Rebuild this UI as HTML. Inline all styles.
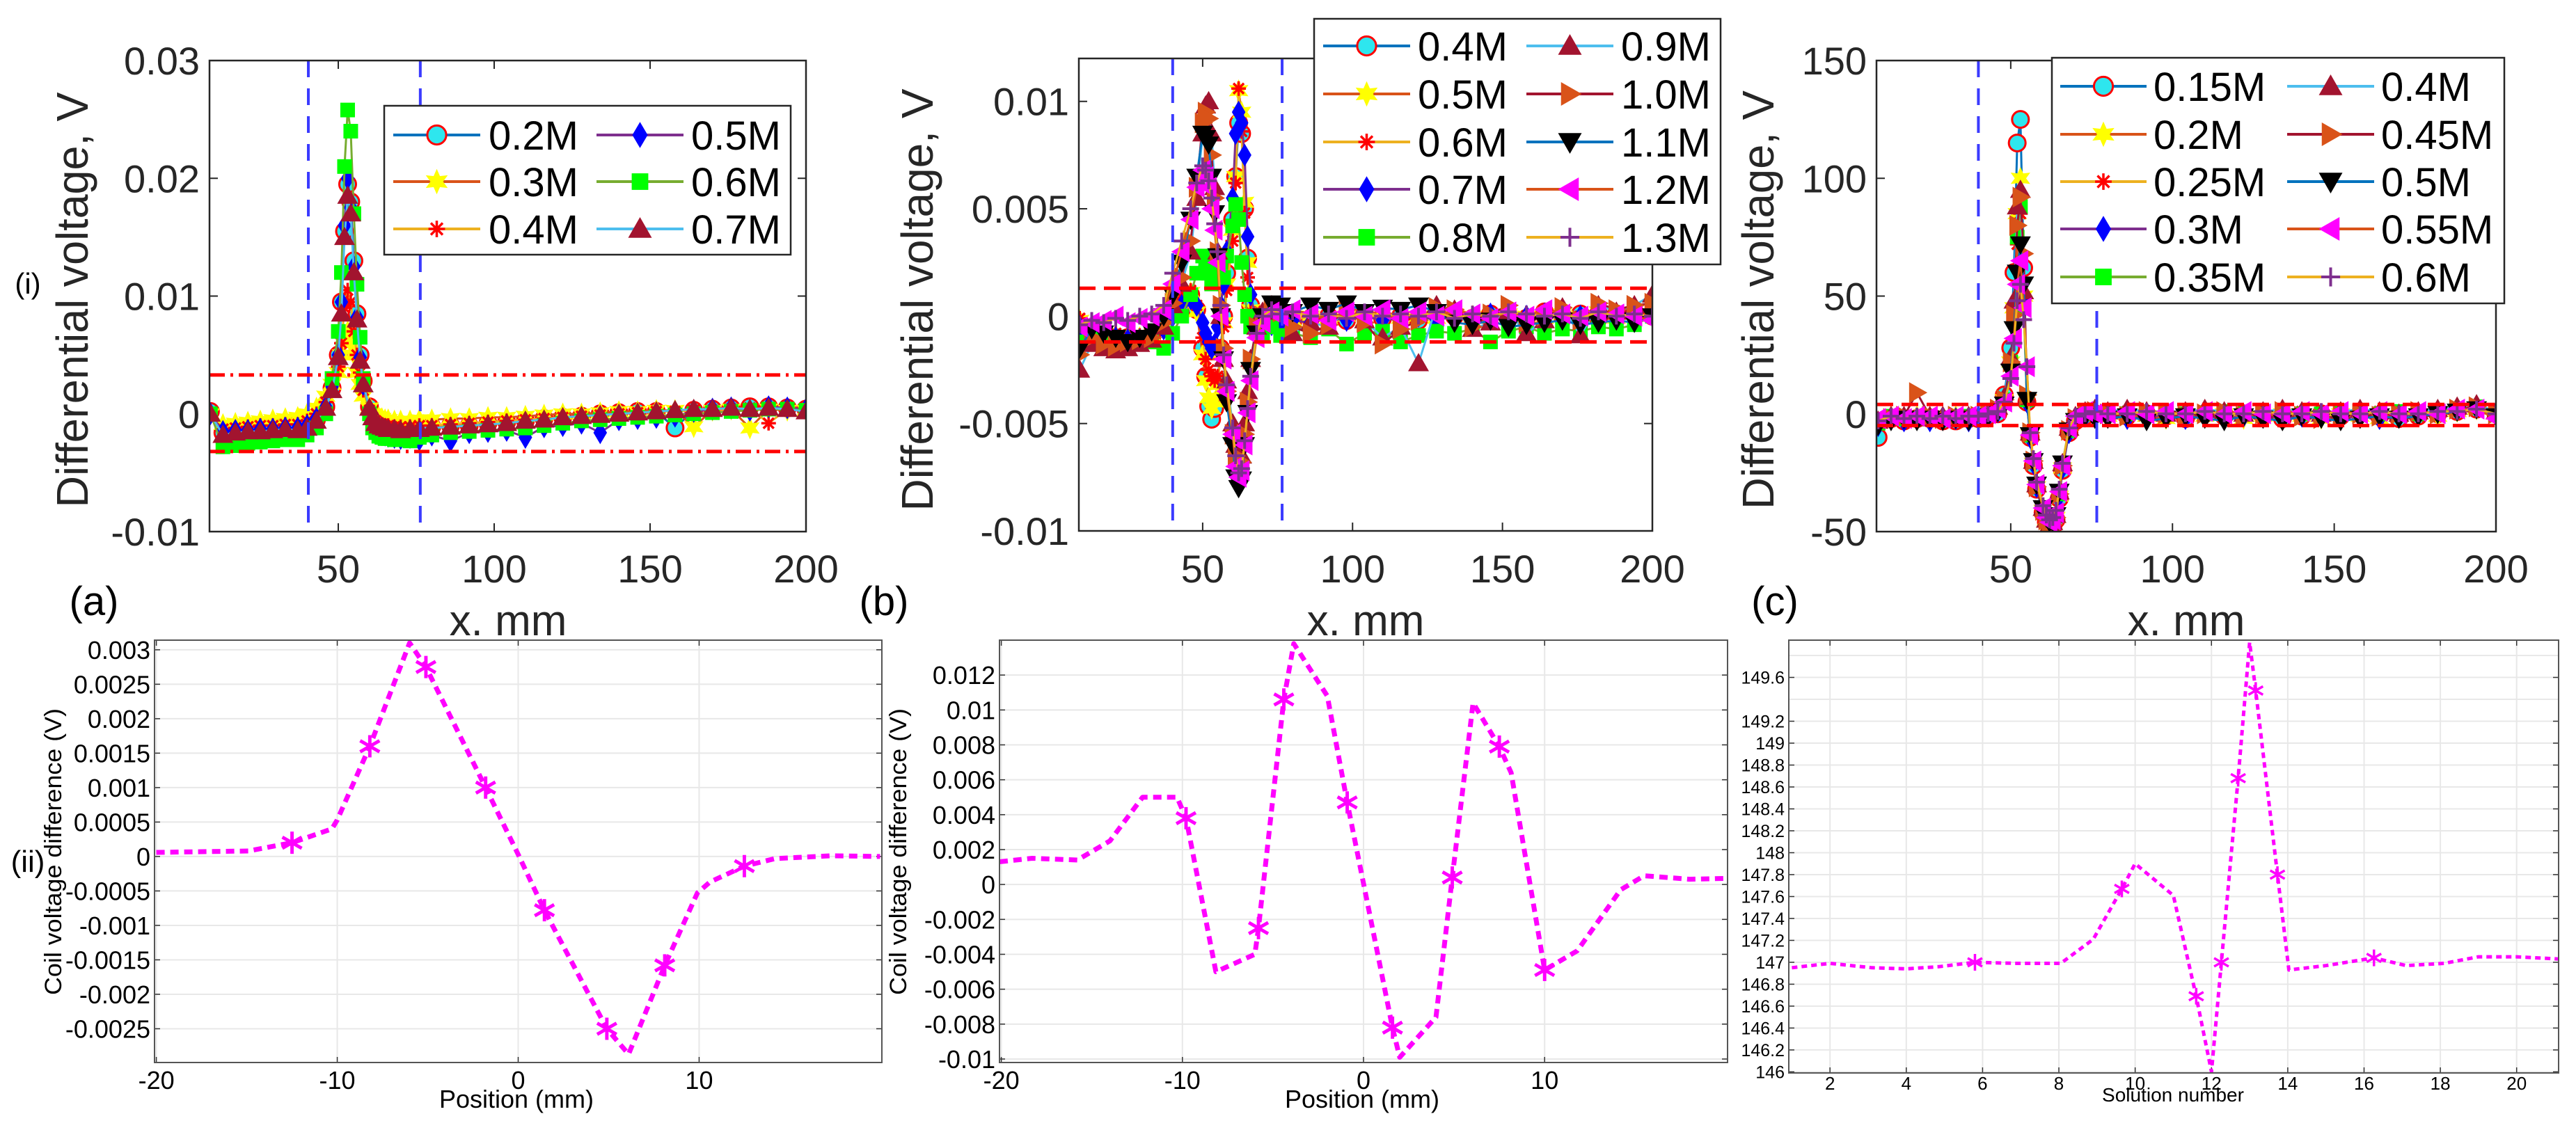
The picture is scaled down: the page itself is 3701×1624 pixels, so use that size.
<!DOCTYPE html>
<html><head><meta charset="utf-8">
<style>
html,body{margin:0;padding:0;background:#fff;}
svg{display:block;}
text{font-family:"Liberation Sans",sans-serif;}
</style></head>
<body>
<svg id="fig" xmlns="http://www.w3.org/2000/svg" width="3701" height="1624" viewBox="0 0 3701 1624">
<rect x="0" y="0" width="3701" height="1624" fill="#fff"/>
<defs>
<clipPath id="cA"><rect x="301" y="87" width="857" height="677"/></clipPath>
<clipPath id="cB"><rect x="1550" y="84" width="824" height="679"/></clipPath>
<clipPath id="cC"><rect x="2696" y="87" width="890" height="677"/></clipPath>
<clipPath id="ca"><rect x="222" y="920" width="1045" height="607"/></clipPath>
<clipPath id="cb"><rect x="1436" y="920" width="1046" height="607"/></clipPath>
<clipPath id="cc"><rect x="2570" y="920" width="1106" height="622"/></clipPath>
</defs>
<g id="layer"></g>
<text x="104" y="431" font-size="64" fill="#262626" text-anchor="middle" textLength="597" lengthAdjust="spacingAndGlyphs" transform="rotate(-90 104 431)" dy="22">Differential voltage, V</text>
<text x="1318" y="431" font-size="64" fill="#262626" text-anchor="middle" textLength="607" lengthAdjust="spacingAndGlyphs" transform="rotate(-90 1318 431)" dy="22">Differential voltage, V</text>
<text x="2526" y="431" font-size="64" fill="#262626" text-anchor="middle" textLength="602" lengthAdjust="spacingAndGlyphs" transform="rotate(-90 2526 431)" dy="22">Differential voltage, V</text>
<text x="730" y="913" font-size="62" fill="#262626" text-anchor="middle">x. mm</text>
<text x="1962" y="913" font-size="62" fill="#262626" text-anchor="middle">x. mm</text>
<text x="3141" y="913" font-size="62" fill="#262626" text-anchor="middle">x. mm</text>
<text x="40" y="422" font-size="42" fill="#000" text-anchor="middle">(i)</text>
<text x="40" y="1253" font-size="44" fill="#000" text-anchor="middle">(ii)</text>
<text x="135" y="884" font-size="58" fill="#000" text-anchor="middle">(a)</text>
<text x="1270" y="884" font-size="58" fill="#000" text-anchor="middle">(b)</text>
<text x="2550" y="884" font-size="58" fill="#000" text-anchor="middle">(c)</text>
<text x="76" y="1224" font-size="34" fill="#000" text-anchor="middle" textLength="412" lengthAdjust="spacingAndGlyphs" transform="rotate(-90 76 1224)" dy="12">Coil voltage difference (V)</text>
<text x="1290" y="1224" font-size="34" fill="#000" text-anchor="middle" textLength="412" lengthAdjust="spacingAndGlyphs" transform="rotate(-90 1290 1224)" dy="12">Coil voltage difference (V)</text>
<text x="742" y="1592" font-size="36" fill="#000" text-anchor="middle">Position (mm)</text>
<text x="1957" y="1592" font-size="36" fill="#000" text-anchor="middle">Position (mm)</text>
<text x="3122" y="1583" font-size="28" fill="#000" text-anchor="middle">Solution number</text>
</svg>
<script>
// ---------- data: top row (measured) ----------
const xsTop = [9,13,17,21,25,29,33,37,40,43,46,48,50,51,52,53,54,55,56,57,58,60,61,62,63,64,65,66,68,70,73,76,80,86,92,98,104,110,116,122,128,134,140,146,152,158,164,170,176,182,188,194,200];
// Panel A values in mV
const a02 = [0.2,-1.6,-1.5,-1.4,-1.4,-1.3,-1.2,-1.2,-1.0,-0.5,0.6,2.2,5,9.5,15.5,19.5,18,13,8.5,5,2.8,0.6,-0.2,-0.7,-0.9,-1.0,-1.1,-1.2,-1.2,-1.3,-1.3,-1.2,-1.1,-1.0,-1.0,-0.8,-0.7,-0.6,-0.4,-0.3,-0.2,0,0.1,0.2,0.2,-1.2,0.3,0.4,0.5,0.6,0.6,0.5,0.4];
const a03 = [0,-0.9,-0.8,-0.7,-0.6,-0.5,-0.4,-0.3,0,0.5,1.5,2.5,3.5,5,6.5,7,6,5,3.5,2.5,1.5,0.5,0,-0.2,-0.3,-0.4,-0.5,-0.5,-0.6,-0.6,-0.6,-0.5,-0.5,-0.4,-0.4,-0.3,-0.3,-0.2,-0.1,0,0,0.1,0.2,0.2,0.3,0.3,-1.1,0.3,0.4,-1.2,0.4,0.3,0.3];
const a04 = [0,-1.3,-1.2,-1.1,-1.0,-1.0,-0.9,-0.9,-0.6,0,1.0,2.5,4,6,9,10.5,9.5,7,5,3.5,2,0.3,-0.3,-0.6,-0.8,-0.9,-1.0,-1.0,-1.1,-1.1,-1.1,-1.0,-1.0,-0.9,-0.8,-0.7,-0.6,-0.5,-0.4,-0.3,-0.2,-0.1,0,0.1,0.2,0.2,0.3,0.3,0.4,0.5,-0.8,0.4,0.3];
const a05 = [0,-1.5,-1.4,-1.4,-1.3,-1.3,-1.2,-1.2,-1.0,-0.4,0.6,2.3,5,9.5,16,20,17.5,12.5,8.2,4.8,2.5,0.3,-0.6,-1.2,-1.5,-1.7,-1.8,-1.9,-2.0,-2.1,-2.0,-2.2,-1.8,-2.3,-1.6,-1.5,-1.4,-2.0,-1.1,-1.0,-0.8,-1.6,-0.5,-0.4,-0.3,-0.2,0.2,0.4,0.5,0.3,0.6,0.5,0.4];
const a06 = [0,-2.8,-2.7,-2.5,-2.4,-2.3,-2.2,-2.2,-1.8,-1.2,0,3,7,12,21,25.8,24,17,11,6.5,3,0,-1.2,-1.6,-1.9,-2.0,-2.1,-2.1,-2.2,-2.2,-2.3,-2.0,-1.8,-1.6,-1.5,-1.4,-1.3,-1.2,-1.0,-0.8,-0.6,-0.5,-0.4,-0.3,-0.2,-0.1,0,0.1,0.2,0.3,0.4,0.4,0.3];
const a07 = [0,-1.8,-1.6,-1.5,-1.5,-1.4,-1.3,-1.4,-1.2,-0.6,0.5,2.0,4.8,8.5,15,18.5,17,12,8,4.5,2.5,0.5,-0.3,-0.8,-1.0,-1.1,-1.2,-1.3,-1.3,-1.4,-1.3,-1.3,-1.2,-1.1,-1.0,-0.9,-0.8,-0.6,-0.5,-0.3,-0.2,-0.1,0,0.1,0.2,0.3,0.4,0.4,0.5,0.4,0.5,0.4,0.2];
const labelsA = ['0.2M','0.3M','0.4M','0.5M','0.6M','0.7M'];
const yTicksA = [-10,0,10,20,30];
const yTickLabelsA = ['-0.01','0','0.01','0.02','0.03'];
const vLinesA = [40.4,76.3];
const hLinesA = [3.3,-3.2];
// Panel B values in mV
const b04 = [-0.3,-0.8,-0.9,-1.0,-1.0,-1.1,-1.0,-0.5,0.2,0.8,1.0,0.3,-1.5,-2.8,-4.2,-4.8,-4.3,-3.0,-1.5,0,2.0,4.5,6.5,9.0,8.5,5,2.7,0.5,-0.2,-0.4,-0.3,-0.2,-0.3,-0.1,0,-0.2,0.1,-0.1,0,-0.2,0.1,0,-0.1,0.1,0,-0.1,0.2,0,0.1,-0.1,0.1,0.2,0];
const b05 = [-0.2,-0.7,-0.8,-0.9,-1.0,-1.0,-0.9,-0.4,0.3,0.9,1.1,0.2,-1.8,-3.0,-3.8,-4.3,-4.0,-3.2,-1.8,-0.3,1.5,4,6.5,10.5,9.5,5.3,2.5,0.3,-0.2,-0.3,-0.2,-0.3,-0.2,0,-0.1,0,-0.2,0.1,-0.1,0,-0.1,0.1,0,-0.1,0.1,0,-0.1,0.1,0,0.2,-0.1,0.1,0];
const b06 = [-0.1,-0.6,-0.7,-0.8,-0.9,-0.9,-0.8,-0.3,0.4,1.0,1.2,0.5,-1.0,-2.0,-2.5,-2.8,-3.0,-2.8,-2.0,-0.5,1.2,3.5,6.2,10.6,8.6,4.8,1.8,0.2,-0.2,-0.3,-0.2,-0.1,-0.2,0,-0.1,0.1,-0.1,0,0.1,-0.1,0,0.1,-0.1,0,0.1,0,-0.1,0.1,0,0.1,0,0.1,0];
const b07 = [-0.5,-0.9,-1.0,-1.0,-1.1,-1.1,-1.0,-0.6,0,0.5,0.8,0.5,-0.3,-0.8,-1.2,-1.5,-1.3,-0.5,0.5,1.5,3,5.5,8.5,9.5,9.0,7.5,3.7,1.0,-0.3,-0.5,-0.4,-0.3,-0.2,-0.3,-0.1,-0.2,0,-0.2,-0.1,0,-0.2,0,-0.1,0.1,-0.1,0,0.1,-0.2,0,0.1,-0.1,0.1,0];
const b08 = [-1.2,-1.0,-1.2,-1.3,-1.2,-1.3,-1.2,-1.5,-0.8,0,1.0,2.0,2.8,2.5,2.0,1.5,1.8,2.0,2.5,1.8,2.8,4.2,5.2,4.5,2.5,1.0,0,-0.5,-0.7,-0.8,-0.5,-0.9,-0.8,-1.0,-0.6,-1.3,-0.8,-0.7,-1.2,-0.9,-0.7,-0.8,-0.6,-1.2,-0.7,-0.5,-0.8,-0.6,-0.7,-0.5,-0.6,-0.4,0];
const b09 = [-2.5,-1.3,-1.5,-1.6,-1.5,-1.3,-1.1,-0.5,0.5,1.5,3,5.5,8.5,9.8,10,8.5,6,3,0,-2,-3,-5,-6,-7,-6.5,-5,-3.5,-2,-0.5,0.2,0.5,0.3,-0.8,-0.3,-0.5,0.3,-0.2,-1.0,-0.5,-2.2,0.5,0.3,-0.6,-0.3,0.2,-0.8,-0.2,0.4,-0.9,0.5,0.2,0.5,1.0];
const b10 = [-1.8,-1.0,-1.3,-1.4,-1.2,-1.1,-1.0,-0.3,0.6,1.8,3.5,6,9,9.5,9.2,7.5,5.5,3,0.5,-1.5,-3.5,-5.5,-6.5,-7,-6.8,-5.5,-4,-2,-0.5,0,0.4,0.2,-0.5,-0.8,-0.4,0.3,-0.3,-1.3,-0.6,-0.2,0.4,0.3,-0.5,0.1,0.5,-0.3,0,0.4,-0.2,0.6,0.3,0.5,0.6];
const b11 = [-1.5,-0.6,-0.8,-1.0,-1.2,-1.0,-0.7,0,1.0,2.5,4.5,6.5,8.5,8.3,8.0,6.5,4.8,2.8,0,-2,-4,-6,-7.5,-8,-7.6,-6,-4.5,-2.5,-0.8,0,0.6,0.5,0.2,0.5,0.3,0.6,0.2,0.4,0.3,0.5,0.2,-0.3,-0.4,-0.2,-0.5,-0.4,-0.3,-0.2,-0.4,-0.3,-0.2,-0.3,0];
const b12 = [-0.5,-0.3,-0.2,0,-0.3,-0.1,0,0.3,1.5,3,4.5,6,6.8,6.5,6,5,4,2.5,0,-2,-3.5,-5.5,-7,-7.5,-7.2,-6.0,-4.5,-3,-1,-0.3,0.2,0,0.3,0.1,-0.2,0.2,0,0.3,-0.1,0.2,0,0.3,0.1,-0.1,0.2,0,0.3,0.1,0,0.2,0.1,0,-0.2];
const b13 = [-0.4,-0.2,-0.3,-0.1,-0.2,0,0.1,0.5,2.0,3.5,5.0,6.2,7.0,6.8,6.3,5.5,4.3,3,0.5,-1.8,-3.2,-5.2,-6.5,-7.3,-7.1,-5.8,-4.3,-2.8,-0.8,0,0.3,0.1,0.2,0,0.1,-0.1,0.2,0,0.1,0,0.2,-0.1,0.1,0,0.2,0.1,0,0.1,-0.1,0.2,0,0.1,0];
const labelsB = ['0.4M','0.5M','0.6M','0.7M','0.8M','0.9M','1.0M','1.1M','1.2M','1.3M'];
const yTicksB = [-10,-5,0,5,10];
const yTickLabelsB = ['-0.01','-0.005','0','0.005','0.01'];
const vLinesB = [40,76.5];
const hLinesB = [1.3,-1.2];
// Panel C values in V
const c015 = [-10,-2,-3,-2,-2,-3,-3,-2,-2,-1,0,8,28,60,115,125,62,5,-10,-22,-32,-42,-46,-48,-48,-45,-36,-24,-8,-3,-1,0,0,-1,0,-1,-2,0,-1,0,-1,-2,-1,0,-1,0,-1,-2,-1,0,1,2,0];
const c020 = [-4,-1,-2,-1,-2,-2,-1,-2,-1,0,2,6,22,45,85,100,50,6,-9,-21,-31,-41,-45,-47,-47,-44,-35,-23,-7,-2,-1,0,-1,0,-1,-2,0,-1,0,-2,-1,0,-1,-2,0,-1,-2,-1,0,-1,1,2,0];
const c025 = [-3,-2,-1,-2,-1,-2,-2,-1,-1,0,2,5,20,40,72,85,45,6,-9,-20,-30,-40,-45,-47,-46,-43,-34,-22,-7,-2,0,1,0,1,0,-1,0,1,0,-1,0,0,1,0,-1,0,1,0,-1,0,2,3,1];
const c030 = [-5,-2,-3,-2,-3,-2,-2,-3,-2,-1,1,5,20,42,78,90,48,5,-10,-21,-31,-41,-45,-47,-47,-44,-35,-23,-8,-3,-1,-1,-1,-2,-1,-1,-2,-1,-2,-1,-1,-2,-1,-1,-2,-1,-2,-1,0,1,2,3,0];
const c035 = [-4,-1,-2,-2,-1,-2,-2,-1,-1,0,2,6,22,44,75,88,45,6,-9,-20,-30,-40,-44,-46,-46,-43,-34,-22,-7,-2,0,0,1,0,0,1,0,0,1,0,0,1,0,0,1,0,0,1,0,1,2,3,1];
const c040 = [-3,-1,-1,-2,-1,-1,-2,-1,-1,0,3,7,24,48,88,95,52,7,-8,-20,-30,-40,-45,-47,-46,-43,-33,-21,-6,-1,1,2,1,2,1,0,1,2,1,0,1,2,1,0,1,2,1,0,1,2,3,4,1];
const c045 = [-4,-2,-1,9,-1,-2,-1,-2,-1,0,2,6,22,42,80,92,68,8,-8,-20,-31,-41,-45,-48,-47,-44,-34,-22,-7,-2,0,1,0,-1,1,0,-1,0,1,-1,0,1,-1,-2,-1,0,-1,0,1,0,2,3,0];
const c050 = [-5,-3,-2,-3,-2,-3,-2,-3,-2,-1,1,4,18,36,60,72,55,6,-9,-20,-30,-40,-44,-46,-46,-43,-33,-21,-7,-3,-1,-2,-2,-1,-3,-2,-1,-2,-3,-1,-2,-3,-1,-2,-3,-2,-1,-2,-1,0,1,2,-1];
const c055 = [-2,-1,-2,-1,-1,-2,-1,-1,-1,0,2,5,16,32,55,65,45,20,-9,-20,-30,-40,-44,-46,-45,-42,-33,-22,-6,-1,1,0,0,1,0,1,0,1,0,1,0,0,1,0,1,0,1,0,1,0,2,2,-2];
const c060 = [-3,-1,-2,-1,-2,-1,-2,-1,-1,0,1,5,15,30,48,55,40,20,-8,-19,-29,-39,-43,-45,-44,-41,-32,-21,-6,-1,0,1,0,0,1,0,0,1,0,0,1,0,0,1,0,0,1,0,0,1,1,2,0];
const labelsC = ['0.15M','0.2M','0.25M','0.3M','0.35M','0.4M','0.45M','0.5M','0.55M','0.6M'];
const yTicksC = [-50,0,50,100,150];
const yTickLabelsC = ['-50','0','50','100','150'];
const vLinesC = [40,76.6];
const hLinesC = [4,-5];
const xTicksTop = [50,100,150,200];
const xTickLabelsTop = ['50','100','150','200'];

// ---------- data: bottom row (simulation) ----------
const simAX = [-20,-14.9,-12.5,-10.3,-10,-8.2,-6.0,-5.1,-1.8,0,1.45,4.9,6.1,8.1,9.9,10.6,12.5,14.2,17.3,20];
const simAY = [0.00006,0.00008,0.0002,0.0004,0.00053,0.0016,0.0031,0.00275,0.001,0.00003,-0.00078,-0.0025,-0.00287,-0.00158,-0.00053,-0.00037,-0.00014,-0.00003,0.00001,0];
const simAMarkX = [-12.5,-8.2,-5.1,-1.8,1.45,4.9,8.1,12.5];
const simAMarkY = [0.0002,0.0016,0.00275,0.001,-0.00078,-0.0025,-0.00158,-0.00014];
const simATicksY = [-0.0025,-0.002,-0.0015,-0.001,-0.0005,0,0.0005,0.001,0.0015,0.002,0.0025,0.003];
const simATickLabelsY = ['-0.0025','-0.002','-0.0015','-0.001','-0.0005','0','0.0005','0.001','0.0015','0.002','0.0025','0.003'];
const simBX = [-20.1,-18.3,-15.8,-14,-12.2,-10.3,-9.8,-8.15,-6,-5.8,-4.4,-3.85,-2,-0.9,1.6,2,4,4.9,6.05,7.5,8.15,10,11.8,14.2,15.5,18,20.1];
const simBY = [0.0013,0.0015,0.0014,0.0025,0.005,0.005,0.0038,-0.005,-0.004,-0.0025,0.0106,0.0138,0.0108,0.0047,-0.0082,-0.0099,-0.0076,0.0004,0.0104,0.0079,0.0064,-0.0049,-0.0038,-0.0003,0.0005,0.0003,0.00035];
const simBMarkX = [-9.8,-5.8,-4.4,-0.9,1.6,4.9,7.5,10];
const simBMarkY = [0.0038,-0.0025,0.0106,0.0047,-0.0082,0.0004,0.0079,-0.0049];
const simBTicksY = [-0.01,-0.008,-0.006,-0.004,-0.002,0,0.002,0.004,0.006,0.008,0.01,0.012];
const simBTickLabelsY = ['-0.01','-0.008','-0.006','-0.004','-0.002','0','0.002','0.004','0.006','0.008','0.01','0.012'];
const simXTicks = [-20,-10,0,10];
const simXTickLabels = ['-20','-10','0','10'];
const simCX = [1,2,3.1,4,4.85,5.8,6.9,8.05,8.9,9.65,10,11,11.6,12,12.26,12.7,13,13.16,13.73,14.03,15,16.26,17.1,18.1,19,20,21.1];
const simCY = [146.95,146.99,146.95,146.94,146.96,147.0,146.99,146.99,147.21,147.67,147.9,147.61,146.69,146.0,147.0,148.68,149.92,149.48,147.8,146.93,146.97,147.04,146.97,146.99,147.05,147.05,147.03];
const simCMarkX = [5.8,9.65,11.6,12.26,12.7,13.16,13.73,16.26];
const simCMarkY = [147.0,147.67,146.69,147.0,148.68,149.48,147.8,147.04];
const simCGridY = [146,146.2,146.4,146.6,146.8,147,147.2,147.4,147.6,147.8,148,148.2,148.4,148.6,148.8,149,149.2,149.4,149.6,149.8];
const simCTicksY = [146,146.2,146.4,146.6,146.8,147,147.2,147.4,147.6,147.8,148,148.2,148.4,148.6,148.8,149,149.2,149.6];
const simCTickLabelsY = ['146','146.2','146.4','146.6','146.8','147','147.2','147.4','147.6','147.8','148','148.2','148.4','148.6','148.8','149','149.2','149.6'];
const simCXTicks = [2,4,6,8,10,12,14,16,18,20];
const simCXTickLabels = ['2','4','6','8','10','12','14','16','18','20'];

// ---------- rendering ----------
const NS = 'http://www.w3.org/2000/svg';
const root = document.getElementById('layer');
function mk(parent, tag, attrs){
  const e = document.createElementNS(NS, tag);
  for (const k in attrs) e.setAttribute(k, attrs[k]);
  parent.appendChild(e);
  return e;
}
function sx(p, v){ return p.x0 + (v - p.xmin) / (p.xmax - p.xmin) * (p.x1 - p.x0); }
function sy(p, v){ return p.y1 - (v - p.ymin) / (p.ymax - p.ymin) * (p.y1 - p.y0); }

const PA = {x0:301,x1:1158,y0:87,y1:764,xmin:8.7,xmax:200,ymin:-10,ymax:30,clip:'cA'};
const PB = {x0:1550,x1:2374,y0:84,y1:763,xmin:8.7,xmax:200,ymin:-10,ymax:12,clip:'cB'};
const PC = {x0:2696,x1:3586,y0:87,y1:764,xmin:8.5,xmax:200,ymin:-50,ymax:150,clip:'cC'};

const STY = {
  circle:{line:'#0072BD'}, star:{line:'#D95319'}, ast:{line:'#EDB120'}, diamond:{line:'#7E2F8E'},
  square:{line:'#77AC30'}, tri:{line:'#4DBEEE'}, rtri:{line:'#A2142F'}, dtri:{line:'#0072BD'},
  ltri:{line:'#D95319'}, plus:{line:'#EDB120'}
};
function marker(g, type, cx, cy, s){
  const h = s/2;
  let e;
  if (type==='circle') e = mk(g,'circle',{cx:cx,cy:cy,r:h*0.8,fill:'#2ee6ee',stroke:'#ff0000','stroke-width':3});
  else if (type==='star'){
    let pts=[]; for(let i=0;i<12;i++){const a=-Math.PI/2+i*Math.PI/6; const r=(i%2===0)?h:h*0.5; pts.push((cx+r*Math.cos(a)).toFixed(1)+','+(cy+r*Math.sin(a)).toFixed(1));}
    e = mk(g,'polygon',{points:pts.join(' '),fill:'#ffff00',stroke:'#ffff00','stroke-width':1});
  }
  else if (type==='ast') e = mk(g,'path',{d:`M${cx-h*0.7},${cy}H${cx+h*0.7}M${cx},${cy-h*0.7}V${cy+h*0.7}M${cx-h*0.5},${cy-h*0.5}L${cx+h*0.5},${cy+h*0.5}M${cx-h*0.5},${cy+h*0.5}L${cx+h*0.5},${cy-h*0.5}`,stroke:'#ff0000','stroke-width':3.5,fill:'none'});
  else if (type==='diamond') e = mk(g,'polygon',{points:`${cx},${cy-h*1.1} ${cx+h*0.65},${cy} ${cx},${cy+h*1.1} ${cx-h*0.65},${cy}`,fill:'#0000ff'});
  else if (type==='square') e = mk(g,'rect',{x:cx-h*0.7,y:cy-h*0.7,width:h*1.4,height:h*1.4,fill:'#00ff00'});
  else if (type==='tri') e = mk(g,'polygon',{points:`${cx},${cy-h} ${cx+h},${cy+h*0.75} ${cx-h},${cy+h*0.75}`,fill:'#A2142F'});
  else if (type==='rtri') e = mk(g,'polygon',{points:`${cx+h},${cy} ${cx-h*0.75},${cy-h} ${cx-h*0.75},${cy+h}`,fill:'#D95319'});
  else if (type==='dtri') e = mk(g,'polygon',{points:`${cx},${cy+h} ${cx+h},${cy-h*0.75} ${cx-h},${cy-h*0.75}`,fill:'#000'});
  else if (type==='ltri') e = mk(g,'polygon',{points:`${cx-h},${cy} ${cx+h*0.75},${cy-h} ${cx+h*0.75},${cy+h}`,fill:'#ff00ff'});
  else if (type==='plus') e = mk(g,'path',{d:`M${cx-h*0.8},${cy}H${cx+h*0.8}M${cx},${cy-h*0.8}V${cy+h*0.8}`,stroke:'#7E2F8E','stroke-width':4,fill:'none'});
  return e;
}

function drawTopPanel(p, key, series, types, labels, yTicks, yTickLabels, vLines, hLines, hDash, legend){
  const g = mk(root,'g',{});
  
  
  // ticks
  yTicks.forEach((v,i)=>{
    const y = sy(p,v);
    mk(g,'line',{x1:p.x0,x2:p.x0+12,y1:y,y2:y,stroke:'#262626','stroke-width':2});
    mk(g,'line',{x1:p.x1,x2:p.x1-12,y1:y,y2:y,stroke:'#262626','stroke-width':2});
    const t = mk(g,'text',{x:p.x0-14,y:y+20,'font-size':56,'text-anchor':'end',fill:'#262626'});
    t.textContent = yTickLabels[i];
    
    
  });
  xTicksTop.forEach((v,i)=>{
    const x = sx(p,v);
    mk(g,'line',{x1:x,x2:x,y1:p.y1,y2:p.y1-12,stroke:'#262626','stroke-width':2});
    mk(g,'line',{x1:x,x2:x,y1:p.y0,y2:p.y0+12,stroke:'#262626','stroke-width':2});
    const t = mk(g,'text',{x:x,y:837,'font-size':56,'text-anchor':'middle',fill:'#262626'});
    t.textContent = xTickLabelsTop[i];
    
    
  });
  const pg = mk(g,'g',{'clip-path':'url(#'+p.clip+')'});
  // series
  series.forEach((arr,si)=>{
    const sg = mk(pg,'g',{});
    
    
    const n = Math.min(arr.length, xsTop.length);
    let d = '';
    for (let i=0;i<n;i++) d += (i?'L':'M') + sx(p,xsTop[i]).toFixed(1) + ',' + sy(p,arr[i]).toFixed(1);
    mk(sg,'path',{d:d,fill:'none',stroke:STY[types[si]].line,'stroke-width':3});
    for (let i=0;i<n;i++){
      const m = marker(sg, types[si], sx(p,xsTop[i]), sy(p,arr[i]), 30);
      
      
    }
  });
  vLines.forEach(v=>{
    const l = mk(pg,'line',{x1:sx(p,v),x2:sx(p,v),y1:p.y0,y2:p.y1,stroke:'#3b3bff','stroke-width':4,'stroke-dasharray':'24 16'});
    
    
  });
  hLines.forEach(v=>{
    const l = mk(pg,'line',{x1:p.x0,x2:p.x1,y1:sy(p,v),y2:sy(p,v),stroke:'#ff0000','stroke-width':5,'stroke-dasharray':hDash});
    
    
  });
  const fr = mk(g,'rect',{x:p.x0,y:p.y0,width:p.x1-p.x0,height:p.y1-p.y0,fill:'none',stroke:'#262626','stroke-width':2.5});
  
  
  // legend
  const lg = mk(g,'g',{});
  
  
  mk(lg,'rect',{x:legend.x0,y:legend.y0,width:legend.x1-legend.x0,height:legend.y1-legend.y0,fill:'#fff',stroke:'#262626','stroke-width':2.5});
  const rows = legend.rows.length;
  labels.forEach((lab,i)=>{
    const col = Math.floor(i/rows), row = i%rows;
    const c = legend.cols[col];
    const y = legend.rows[row];
    const en = mk(lg,'g',{});
    
    
    mk(en,'line',{x1:c.l0,x2:c.l1,y1:y,y2:y,stroke:STY[types[i]].line,'stroke-width':4});
    marker(en, types[i], (c.l0+c.l1)/2, y, 34);
    const t = mk(en,'text',{x:c.t,y:y+21,'font-size':58,fill:'#000'});
    t.textContent = lab;
  });
}

drawTopPanel(PA,'a',[a02,a03,a04,a05,a06,a07],['circle','star','ast','diamond','square','tri'],labelsA,yTicksA,yTickLabelsA,vLinesA,hLinesA,'22 8 4 8',
  {x0:552,x1:1136,y0:152,y1:366,rows:[194,261,329],cols:[{l0:565,l1:690,t:702},{l0:857,l1:982,t:993}]});
drawTopPanel(PB,'b',[b04,b05,b06,b07,b08,b09,b10,b11,b12,b13],['circle','star','ast','diamond','square','tri','rtri','dtri','ltri','plus'],labelsB,yTicksB,yTickLabelsB,vLinesB,hLinesB,'24 12',
  {x0:1888,x1:2472,y0:27,y1:380,rows:[66,135,204,272,341],cols:[{l0:1901,l1:2026,t:2037},{l0:2193,l1:2318,t:2329}]});
drawTopPanel(PC,'c',[c015,c020,c025,c030,c035,c040,c045,c050,c055,c060],['circle','star','ast','diamond','square','tri','rtri','dtri','ltri','plus'],labelsC,yTicksC,yTickLabelsC,vLinesC,hLinesC,'24 12',
  {x0:2948,x1:3598,y0:83,y1:436,rows:[124,193,261,329,398],cols:[{l0:2960,l1:3084,t:3094},{l0:3286,l1:3411,t:3421}]});

// bottom panels
const Pa = {x0:222,x1:1267,y0:920,y1:1527,xmin:-20.1,xmax:20.1,ymin:-0.00299,ymax:0.00314,clip:'ca'};
const Pb = {x0:1436,x1:2482,y0:920,y1:1527,xmin:-20.1,xmax:20.1,ymin:-0.0102,ymax:0.0140,clip:'cb'};
const Pc = {x0:2570,x1:3676,y0:920,y1:1542,xmin:0.92,xmax:21.1,ymin:145.99,ymax:149.94,clip:'cc'};

function astMark(g, cx, cy, s, w){
  const h = s/2;
  const e = mk(g,'path',{d:`M${cx},${cy-h}V${cy+h}M${cx-h*0.87},${cy-h*0.5}L${cx+h*0.87},${cy+h*0.5}M${cx-h*0.87},${cy+h*0.5}L${cx+h*0.87},${cy-h*0.5}`,stroke:'#ff00ff','stroke-width':w,fill:'none'});
  return e;
}
function drawSim(p, key, X, Y, MX, MY, gridY, ticksY, tickLabelsY, ticksX, tickLabelsX, fs, fsx, xlabY, lw, ms, dash){
  const g = mk(root,'g',{});
  
  
  gridY.forEach(v=>{
    mk(g,'line',{x1:p.x0,x2:p.x1,y1:sy(p,v),y2:sy(p,v),stroke:'#e8e8e8','stroke-width':2});
  });
  ticksX.forEach(v=>{
    mk(g,'line',{x1:sx(p,v),x2:sx(p,v),y1:p.y0,y2:p.y1,stroke:'#e8e8e8','stroke-width':2});
  });
  ticksY.forEach((v,i)=>{
    const y = sy(p,v);
    mk(g,'line',{x1:p.x0,x2:p.x0+8,y1:y,y2:y,stroke:'#333','stroke-width':1.5});
    mk(g,'line',{x1:p.x1,x2:p.x1-8,y1:y,y2:y,stroke:'#333','stroke-width':1.5});
    const t = mk(g,'text',{x:p.x0-6,y:y+fs*0.36,'font-size':fs,'text-anchor':'end',fill:'#000'});
    t.textContent = tickLabelsY[i];
    
    
  });
  ticksX.forEach((v,i)=>{
    const x = sx(p,v);
    mk(g,'line',{x1:x,x2:x,y1:p.y1,y2:p.y1-8,stroke:'#333','stroke-width':1.5});
    mk(g,'line',{x1:x,x2:x,y1:p.y0,y2:p.y0+8,stroke:'#333','stroke-width':1.5});
    const t = mk(g,'text',{x:x,y:xlabY,'font-size':fsx,'text-anchor':'middle',fill:'#000'});
    t.textContent = tickLabelsX[i];
    
    
  });
  const pg = mk(g,'g',{'clip-path':'url(#'+p.clip+')'});
  let d='';
  const n = Math.min(X.length, Y.length);
  for (let i=0;i<n;i++) d += (i?'L':'M') + sx(p,X[i]).toFixed(1) + ',' + sy(p,Y[i]).toFixed(1);
  const ln = mk(pg,'path',{d:d,fill:'none',stroke:'#ff00ff','stroke-width':lw,'stroke-dasharray':dash,'stroke-linejoin':'round'});
  
  
  const m = Math.min(MX.length, MY.length);
  for (let i=0;i<m;i++){
    const mm = astMark(pg, sx(p,MX[i]), sy(p,MY[i]), ms, lw*0.7);
    
    
  }
  const fr = mk(g,'rect',{x:p.x0,y:p.y0,width:p.x1-p.x0,height:p.y1-p.y0,fill:'none',stroke:'#555','stroke-width':2});
  
  
}
drawSim(Pa,'a',simAX,simAY,simAMarkX,simAMarkY,simATicksY,simATicksY,simATickLabelsY,simXTicks,simXTickLabels,36,36,1565,7,32,'12 8');
drawSim(Pb,'b',simBX,simBY,simBMarkX,simBMarkY,simBTicksY,simBTicksY,simBTickLabelsY,simXTicks,simXTickLabels,36,36,1565,7,32,'12 8');
drawSim(Pc,'c',simCX,simCY,simCMarkX,simCMarkY,simCGridY,simCTicksY,simCTickLabelsY,simCXTicks,simCXTickLabels,25,26,1566,5,24,'8 6');
</script>
</body></html>
